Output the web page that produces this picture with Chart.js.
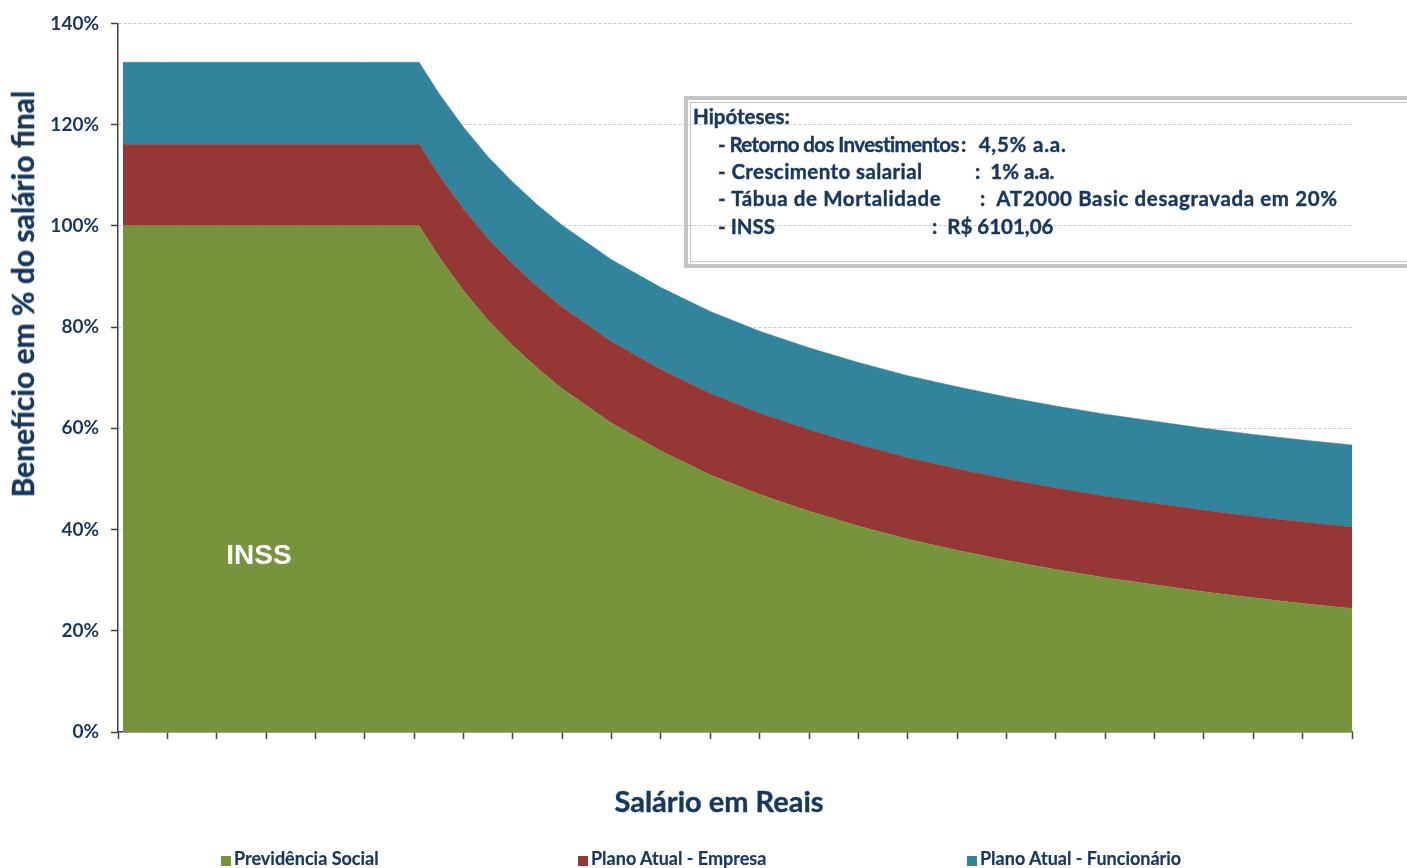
<!DOCTYPE html>
<html lang="pt-BR">
<head>
<meta charset="utf-8">
<title>Benefício em % do salário final</title>
<script src="https://cdn.jsdelivr.net/npm/chart.js@4/dist/chart.umd.min.js"></script>
<style>
  html, body { margin: 0; padding: 0; background: #fff; }
  #wrap { position: relative; width: 1407px; height: 868px; overflow: hidden; font-family: Lato, "Open Sans", sans-serif; color: #17375E; }
  #chart { position: absolute; left: 0; top: 0; }
  .abs { position: absolute; white-space: nowrap; font-weight: bold; -webkit-text-stroke: 0.4px #17375E; }
  #yTitle { left: 22px; top: 294px; font-size: 30px; transform: translate(-50%, -50%) rotate(-90deg); }
  #xTitle { left: 719px; top: 800px; font-size: 29px; transform: translate(-50%, -50%); }
  #inss { left: 259px; top: 555px; font-family: "Liberation Sans", Arial, sans-serif; font-size: 28px; color: #fff; -webkit-text-stroke: 0; transform: translate(-50%, -50%); }
  #box { position: absolute; left: 684px; top: 96px; width: 740px; height: 164px; border: 4px solid #c4c4c4; }
  #box .inner { position: absolute; left: 2px; top: 2px; right: 2px; bottom: 2px; border: 1px solid #c4c4c4; }
  .hip { font-size: 20.5px; line-height: 20px; transform: translateY(-50%); }
  .leg { top: 858px; font-size: 18px; transform: translateY(-50%); -webkit-text-stroke: 0.2px #17375E; }
  .leg i { display: inline-block; width: 10px; height: 10px; margin-right: 3px; vertical-align: -1px; }
</style>
</head>
<body>
<div id="wrap">
  <canvas id="chart" width="1407" height="868"></canvas>

  <div class="abs" id="yTitle">Benefício em % do salário final</div>
  <div class="abs" id="xTitle">Salário em Reais</div>
  <div class="abs" id="inss">INSS</div>

  <div id="box"><div class="inner"></div></div>
  <div class="abs hip" style="left:693px; top:116px;">Hipóteses:</div>
  <div class="abs hip" style="left:718px; top:144px; letter-spacing:-0.6px;">- Retorno dos Investimentos</div>
  <div class="abs hip" style="left:961px; top:144px; letter-spacing:0.8px;">:&nbsp; 4,5% a.a.</div>
  <div class="abs hip" style="left:718px; top:171px; letter-spacing:0.4px;">- Crescimento salarial</div>
  <div class="abs hip" style="left:975px; top:171px;">:&nbsp; 1% a.a.</div>
  <div class="abs hip" style="left:718px; top:198px; letter-spacing:0.6px;">- Tábua de Mortalidade</div>
  <div class="abs hip" style="left:980px; top:198px; letter-spacing:0.6px;">:&nbsp; AT2000 Basic desagravada em 20%</div>
  <div class="abs hip" style="left:718px; top:226px;">- INSS</div>
  <div class="abs hip" style="left:932px; top:226px;">:&nbsp; R$ 6101,06</div>

  <div class="abs leg" style="left:221px;"><i style="background:#77933C"></i>Previdência Social</div>
  <div class="abs leg" style="left:578px;"><i style="background:#953735"></i>Plano Atual - Empresa</div>
  <div class="abs leg" style="left:967px;"><i style="background:#31849B"></i>Plano Atual - Funcionário</div>
</div>

<script>
// salário (R$) no eixo x, benefício em % do salário final no eixo y
const salarios = [100, 1000, 2000, 3000, 4000, 5000, 6000, 6101, 6500, 7000,
  7500, 8000, 8500, 9000, 10000, 11000, 12000, 13000, 14000, 15000,
  16000, 17000, 18000, 19000, 20000, 21000, 22000, 23000, 24000, 25000];

const previdencia = [100, 100, 100, 100, 100, 100, 100, 100, 93.9, 87.2,
  81.3, 76.3, 71.8, 67.8, 61.0, 55.5, 50.8, 46.9, 43.6, 40.7,
  38.1, 35.9, 33.9, 32.1, 30.5, 29.1, 27.7, 26.5, 25.4, 24.4];

const planoEmpresa = [16.1, 16.1, 16.1, 16.1, 16.1, 16.1, 16.1, 16.1, 16.1, 16.1,
  16.1, 16.1, 16.1, 16.1, 16.1, 16.1, 16.1, 16.1, 16.1, 16.1,
  16.1, 16.1, 16.1, 16.1, 16.1, 16.1, 16.1, 16.1, 16.1, 16.1];

const planoFuncionario = [16.2, 16.2, 16.2, 16.2, 16.2, 16.2, 16.2, 16.2, 16.2, 16.2,
  16.2, 16.2, 16.2, 16.2, 16.2, 16.2, 16.2, 16.2, 16.2, 16.2,
  16.2, 16.2, 16.2, 16.2, 16.2, 16.2, 16.2, 16.2, 16.2, 16.2];

const yTicks = [0, 20, 40, 60, 80, 100, 120, 140];

const NAVY = "#17375E";
const pts = (arr) => arr.map((v, i) => ({ x: salarios[i], y: v }));
const area = (label, arr, color, fill) => ({
  label, data: pts(arr), fill,
  backgroundColor: color, borderColor: color, borderWidth: 0.5,
  pointRadius: 0, tension: 0,
});

new Chart(document.getElementById("chart"), {
  type: "line",
  data: {
    datasets: [
      area("Previdência Social", previdencia, "#77933C", "origin"),
      area("Plano Atual - Empresa", planoEmpresa, "#953735", "-1"),
      area("Plano Atual - Funcionário", planoFuncionario, "#31849B", "-1"),
    ],
  },
  options: {
    responsive: false,
    animation: false,
    events: [],
    layout: { padding: { top: 23, right: 55, left: 0, bottom: 0 } },
    plugins: { legend: { display: false }, tooltip: { enabled: false } },
    scales: {
      x: {
        type: "linear", min: 0, max: 25000,
        ticks: { display: false, stepSize: 1000 },
        grid: { drawOnChartArea: false, tickLength: 7, tickColor: "#404040", tickWidth: 1.5 },
        border: { color: "#404040", width: 1.5 },
        afterFit: (s) => { s.height = 136; },
      },
      y: {
        stacked: true, min: 0, max: 140,
        afterBuildTicks: (s) => { s.ticks = yTicks.map((v) => ({ value: v })); },
        ticks: {
          padding: 12, color: NAVY,
          font: { family: "Lato", size: 19, weight: "bold" },
          callback: (v) => v + "%",
        },
        grid: {
          color: (c) => (c.tick && c.tick.value === 0 ? "rgba(0,0,0,0)" : "#c8c8c8"),
          tickColor: "#404040", tickLength: 7, tickWidth: 1.5, tickBorderDash: [],
        },
        border: { color: "#404040", width: 1.5, dash: [3, 2] },
        afterFit: (s) => { s.width = 118; },
      },
    },
  },
});
</script>
</body>
</html>
